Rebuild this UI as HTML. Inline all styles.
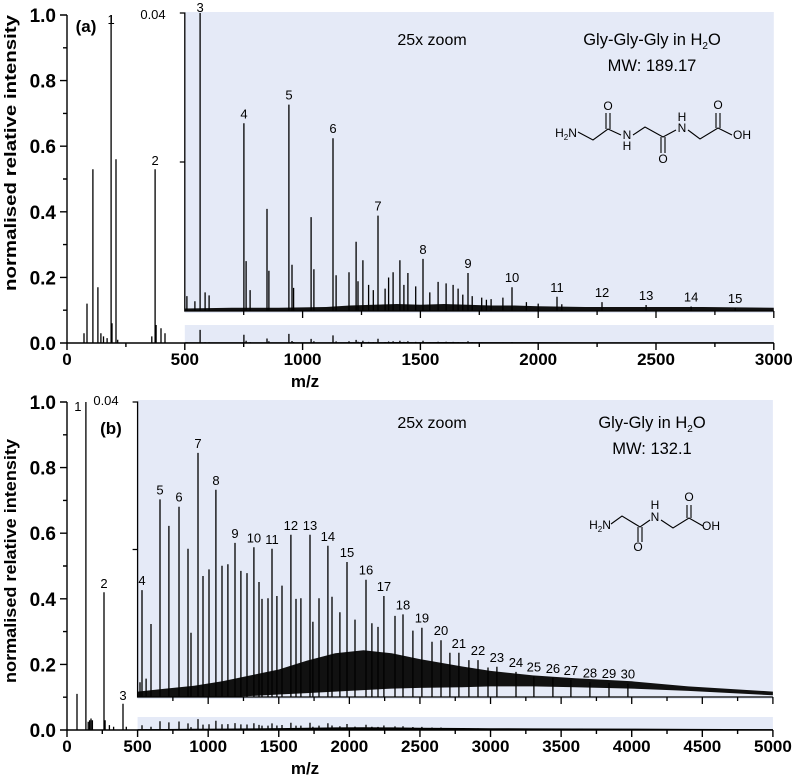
<!DOCTYPE html>
<html><head><meta charset="utf-8"><style>
html,body{margin:0;padding:0;background:#fff;}
svg{display:block;font-family:"Liberation Sans",sans-serif;}
</style></head><body>
<svg id="fig" width="797" height="783" viewBox="0 0 797 783" xmlns="http://www.w3.org/2000/svg">
<g id="pa"></g>
<g id="pb"></g>
</svg>
<script>
// ---------- Panel (a) data: Gly-Gly-Gly ----------
const aMainMz  = [72, 85, 110, 131, 144, 155, 170, 191, 208, 215, 360, 378, 399, 416];
const aMainInt = [0.03, 0.12, 0.53, 0.17, 0.03, 0.02, 0.015, 0.06, 0.56, 0.01, 0.02, 0.055, 0.045, 0.03];
const aMainLabMz  = [187, 374];
const aMainLabInt = [1.0, 0.53];
const aMainLabTxt = ["1", "2"];
const aInsLabMz  = [565, 751, 942, 1129, 1320, 1511, 1702, 1889, 2080, 2271, 2458, 2649, 2836];
const aInsLabInt = [0.04, 0.0252, 0.0277, 0.0232, 0.0128, 0.0070, 0.0051, 0.0032, 0.0019, 0.0012, 0.0008, 0.0006, 0.0004];
const aInsLabTxt = ["3","4","5","6","7","8","9","10","11","12","13","14","15"];
const aInsMz  = [509, 543, 586, 603, 760, 777, 849, 857, 955, 962, 1036, 1048, 1142, 1197, 1227, 1235, 1256, 1280, 1300, 1350, 1365, 1384, 1413, 1430, 1447, 1480, 1540, 1575, 1609, 1639, 1660, 1680, 1720, 1760, 1780, 1800, 1850, 1950, 2000, 2100];
const aInsInt = [0.0020, 0.0013, 0.0025, 0.0021, 0.0067, 0.0028, 0.0137, 0.0054, 0.0062, 0.0031, 0.0126, 0.0056, 0.0048, 0.0052, 0.0093, 0.0040, 0.0068, 0.0035, 0.0028, 0.0030, 0.0045, 0.0052, 0.0068, 0.0035, 0.0051, 0.0033, 0.0025, 0.0039, 0.0037, 0.0035, 0.0030, 0.0022, 0.0020, 0.0018, 0.0015, 0.0016, 0.0018, 0.0012, 0.0010, 0.0009];
const aEnvMz = [500, 700, 900, 1100, 1200, 1300, 1400, 1500, 1600, 1700, 1800, 1900, 2000, 2200, 2500, 2700, 3000];
const aEnvHi = [0.0002, 0.0003, 0.0003, 0.0004, 0.0006, 0.0007, 0.0008, 0.0007, 0.0008, 0.0007, 0.0006, 0.0006, 0.0005, 0.0004, 0.0004, 0.0004, 0.0003];

// ---------- Panel (b) data: Gly-Gly ----------
const bMainMz  = [71, 150, 160, 170, 180, 270, 300, 330, 420];
const bMainInt = [0.11, 0.025, 0.03, 0.035, 0.03, 0.03, 0.015, 0.01, 0.01];
const bMainLabMz  = [134, 262, 397];
const bMainLabInt = [1.0, 0.42, 0.08];
const bMainLabTxt = ["1", "2", "3"];
const bInsLabMz  = [531, 659, 793, 928, 1055, 1190, 1324, 1452, 1586, 1721, 1848, 1983, 2118, 2245, 2380, 2514, 2649, 2776, 2911, 3045, 3180, 3307, 3442, 3569, 3704, 3839, 3973];
const bInsLabInt = [0.0145, 0.0268, 0.0258, 0.0331, 0.0281, 0.0209, 0.0203, 0.0201, 0.0220, 0.0220, 0.0205, 0.0183, 0.0159, 0.0137, 0.0112, 0.0094, 0.0077, 0.0060, 0.0050, 0.0041, 0.0034, 0.0028, 0.0026, 0.0023, 0.0020, 0.0019, 0.0018];
const bInsLabTxt = ["4","5","6","7","8","9","10","11","12","13","14","15","16","17","18","19","20","21","22","23","24","25","26","27","28","29","30"];
const bInsMz  = [517, 560, 595, 722, 857, 878, 963, 1006, 1098, 1140, 1232, 1275, 1360, 1381, 1424, 1487, 1523, 1622, 1657, 1742, 1785, 1877, 1933, 2040, 2160, 2203, 2323, 2450, 2585, 2712, 2847, 2982];
const bInsInt = [0.0020, 0.0025, 0.0099, 0.0232, 0.0201, 0.0087, 0.0164, 0.0173, 0.0178, 0.0180, 0.0171, 0.0168, 0.0156, 0.0133, 0.0134, 0.0137, 0.0151, 0.0133, 0.0134, 0.0102, 0.0134, 0.0136, 0.0115, 0.0105, 0.0100, 0.0095, 0.0110, 0.0090, 0.0075, 0.0060, 0.0050, 0.0040];
const bEnvMz = [500, 700, 900, 1100, 1300, 1500, 1700, 1900, 2100, 2300, 2500, 2800, 3000, 3300, 3600, 4000, 4400, 5000];
const bEnvHi = [0.0006, 0.0010, 0.0014, 0.0020, 0.0028, 0.0036, 0.0048, 0.0058, 0.0062, 0.0058, 0.0050, 0.0040, 0.0034, 0.0028, 0.0024, 0.0020, 0.0013, 0.0006];
const bEnvLo = [0, 0, 0, 0, 0.0002, 0.0004, 0.0006, 0.0008, 0.0010, 0.0012, 0.0013, 0.0014, 0.0015, 0.0015, 0.0014, 0.0012, 0.0009, 0.0003];

const xTicksA = [0, 500, 1000, 1500, 2000, 2500, 3000];
const xTicksB = [0, 500, 1000, 1500, 2000, 2500, 3000, 3500, 4000, 4500, 5000];
const yTicks = [0.0, 0.2, 0.4, 0.6, 0.8, 1.0];
const yTickLabels = ["0.0", "0.2", "0.4", "0.6", "0.8", "1.0"];

const NS = "http://www.w3.org/2000/svg";
function mk(parent, tag, attrs, text) {
  const e = document.createElementNS(NS, tag);
  for (const k in attrs) e.setAttribute(k, attrs[k]);
  if (text !== undefined) e.textContent = text;
  parent.appendChild(e);
  return e;
}
const BG = "#e5eaf7";

function panel(g, P) {
  const X = m => P.x0 + m * P.kx;
  const Y = v => P.y0 - v * 328;
  const Yi = v => P.yi0 - Math.min(v, 0.04) / 0.04 * P.ih;
  const xEnd = X(P.xmax);
  let r = mk(g, "rect", {x: X(500), y: P.bgTop, width: xEnd - X(500), height: P.yi0 + 2 - P.bgTop, fill: BG});
  
  
  r = mk(g, "rect", {x: X(500), y: P.stripTop, width: xEnd - X(500), height: P.y0 - P.stripTop, fill: BG});
  
  

  let d = "";
  const allMz = P.mainMz.concat(P.mainLabMz, P.insLabMz, P.insMz);
  const allInt = P.mainInt.concat(P.mainLabInt, P.insLabInt, P.insInt);
  for (let i = 0; i < allMz.length; i++) {
    d += "M" + X(allMz[i]).toFixed(1) + " " + P.y0 + "V" + Y(allInt[i]).toFixed(1);
  }
  let p = mk(g, "path", {d: d, stroke: "#000", "stroke-width": 1.3, fill: "none"});
  
  
  let env = "M" + X(P.envMz[0]) + " " + P.y0;
  for (let i = 0; i < P.envMz.length; i++) env += "L" + X(P.envMz[i]).toFixed(1) + " " + (Y(P.envHi[i]) - 0.7).toFixed(1);
  env += "L" + X(P.envMz[P.envMz.length - 1]) + " " + P.y0 + "Z";
  p = mk(g, "path", {d: env, fill: "#000"});
  
  

  let band = "";
  for (let i = 0; i < P.envMz.length; i++) band += (i ? "L" : "M") + X(P.envMz[i]).toFixed(1) + " " + (Yi(P.envHi[i]) - 1).toFixed(1);
  for (let i = P.envMz.length - 1; i >= 0; i--) band += "L" + X(P.envMz[i]).toFixed(1) + " " + (Yi(P.envLo ? P.envLo[i] : 0) + 0.5).toFixed(1);
  band += "Z";
  p = mk(g, "path", {d: band, fill: "#111"});
  
  

  d = "";
  const iMz = P.insLabMz.concat(P.insMz), iInt = P.insLabInt.concat(P.insInt);
  for (let i = 0; i < iMz.length; i++) {
    d += "M" + X(iMz[i]).toFixed(1) + " " + P.yi0 + "V" + Yi(iInt[i]).toFixed(1);
  }
  p = mk(g, "path", {d: d, stroke: "#000", "stroke-width": 1.3, fill: "none"});
  
  

  for (let i = 0; i < P.mainLabMz.length; i++) {
    let lx = X(P.mainLabMz[i]), ly = Y(P.mainLabInt[i]) - 4;
    if (P.mainLabInt[i] >= 1) { ly = P.y0 - 328 + 9; lx += P.firstLabDx; }
    const t = mk(g, "text", {x: lx, y: ly, "font-size": 13, "text-anchor": "middle"}, P.mainLabTxt[i]);
    
    
  }
  for (let i = 0; i < P.insLabMz.length; i++) {
    let ly = Yi(P.insLabInt[i]) - 5;
    if (P.insLabInt[i] >= 0.04) ly = P.bgTop + 0;
    const t = mk(g, "text", {x: X(P.insLabMz[i]), y: Math.max(ly, P.bgTop), "font-size": 13, "text-anchor": "middle"}, P.insLabTxt[i]);
    
    
  }

  let ax = "M" + P.x0 + " " + Y(1) + "V" + P.y0 + "H" + xEnd;
  for (let v = 0; v <= 10; v++) ax += "M" + P.x0 + " " + Y(v / 10) + "h" + (v % 2 ? -4 : -7);
  for (let m = 0; m <= P.xmax; m += 250) ax += "M" + X(m) + " " + P.y0 + "v" + (m % 500 ? 4 : 7);
  p = mk(g, "path", {d: ax, stroke: "#000", "stroke-width": 1.4, fill: "none"});
  
  
  let iax = "M" + (X(500) - 5) + " " + Yi(0.04) + "h5V" + P.yi0 + "H" + xEnd + "M" + (X(500) - 5) + " " + Yi(0.02) + "h5";
  for (let m = 750; m <= P.xmax; m += 250) iax += "M" + X(m) + " " + P.yi0 + "v" + (m % 500 ? 4 : 7);
  p = mk(g, "path", {d: iax, stroke: "#000", "stroke-width": 1.3, fill: "none"});
  
  

  for (let i = 0; i < yTicks.length; i++) {
    const t = mk(g, "text", {x: P.x0 - 11, y: Y(yTicks[i]) + 7, "font-size": 19, "font-weight": "bold", "text-anchor": "end"}, yTickLabels[i]);
    
    
  }
  for (let i = 0; i < P.xTicks.length; i++) {
    const t = mk(g, "text", {x: X(P.xTicks[i]), y: P.y0 + 22, "font-size": 17, "font-weight": "bold", "text-anchor": "middle"}, String(P.xTicks[i]));
    
    
  }
  let t = mk(g, "text", {x: 305, y: P.y0 + 44, "font-size": 17, "font-weight": "bold", "text-anchor": "middle"}, "m/z");
  
  
  t = mk(g, "text", {x: 0, y: 0, "font-size": 17, "font-weight": "bold", "text-anchor": "middle", transform: "translate(16," + P.ytCenter + ") rotate(-90)", textLength: P.ytLen, lengthAdjust: "spacingAndGlyphs"}, "normalised relative intensity");
  
  
  t = mk(g, "text", {x: P.zeroLab[0], y: P.zeroLab[1], "font-size": 13, "text-anchor": "middle"}, "0.04");
  
  
  t = mk(g, "text", {x: P.panLab[0], y: P.panLab[1], "font-size": 17, "font-weight": "bold", "text-anchor": "middle"}, P.panTxt);
  
  
  t = mk(g, "text", {x: 432, y: P.textY, "font-size": 16, "text-anchor": "middle"}, "25x zoom");
  
  
  t = mk(g, "text", {x: 652, y: P.textY, "font-size": 16.5, "text-anchor": "middle"});
  
  
  t.innerHTML = P.compound + ' in H<tspan font-size="10" dy="4">2</tspan><tspan dy="-4">O</tspan>';
  t = mk(g, "text", {x: 652, y: P.textY + 26, "font-size": 16.5, "text-anchor": "middle"}, P.mw);
  
  
}

function molecule(g, atoms, bonds, name) {
  const m = mk(g, "g", {});
  
  
  mk(m, "path", {d: bonds, stroke: "#000", "stroke-width": 1.1, fill: "none"});
  for (const a of atoms) {
    const t = mk(m, "text", {x: a[0], y: a[1], "font-size": 12, "text-anchor": "middle"});
    t.innerHTML = a[2];
  }
}

panel(document.getElementById("pa"), {
  x0: 67, kx: 0.2356, y0: 343, yi0: 311, ih: 298, xmax: 3000, bgTop: 12, stripTop: 325,
  mainMz: aMainMz, mainInt: aMainInt, mainLabMz: aMainLabMz, mainLabInt: aMainLabInt, mainLabTxt: aMainLabTxt,
  insLabMz: aInsLabMz, insLabInt: aInsLabInt, insLabTxt: aInsLabTxt, insMz: aInsMz, insInt: aInsInt,
  envMz: aEnvMz, envHi: aEnvHi, envLo: null, xTicks: xTicksA, firstLabDx: 0,
  ytCenter: 153, ytLen: 276, zeroLab: [153, 19], panLab: [86, 32], panTxt: "(a)",
  textY: 45, compound: "Gly-Gly-Gly", mw: "MW: 189.17"
});
panel(document.getElementById("pb"), {
  x0: 67, kx: 0.14118, y0: 730, yi0: 697, ih: 295, xmax: 5000, bgTop: 400, stripTop: 717,
  mainMz: bMainMz, mainInt: bMainInt, mainLabMz: bMainLabMz, mainLabInt: bMainLabInt, mainLabTxt: bMainLabTxt,
  insLabMz: bInsLabMz, insLabInt: bInsLabInt, insLabTxt: bInsLabTxt, insMz: bInsMz, insInt: bInsInt,
  envMz: bEnvMz, envHi: bEnvHi, envLo: bEnvLo, xTicks: xTicksB, firstLabDx: -8,
  ytCenter: 561, ytLen: 244, zeroLab: [106, 405], panLab: [111, 434], panTxt: "(b)",
  textY: 428, compound: "Gly-Gly", mw: "MW: 132.1"
});

molecule(document.getElementById("pa"),
  [[566, 137, 'H<tspan font-size="8" dy="3">2</tspan><tspan dy="-3">N</tspan>'], [608, 110, "O"], [627, 139, "N"], [627, 150, "H"], [663, 163, "O"], [682, 132, "N"], [682, 121, "H"], [718, 109, "O"], [742, 139, "OH"]],
  "M578 132L593 140L608 129L621 135M633 135L645 127L663 137L676 130M688 130L700 139L718 128L732 135M606 129V113M610 129V113M661 137V153M665 137V153M716 128V113M720 128V113",
  "gly-gly-gly-structure");
molecule(document.getElementById("pb"),
  [[600, 529, 'H<tspan font-size="8" dy="3">2</tspan><tspan dy="-3">N</tspan>'], [655, 521, "N"], [655, 509, "H"], [638, 551, "O"], [689, 501, "O"], [711, 530, "OH"]],
  "M611 524L622 516L640 527L650 520M661 520L673 528L689 518L703 526M638 527V542M642 527V542M687 518V505M691 518V505",
  "gly-gly-structure");
</script>
</body></html>
